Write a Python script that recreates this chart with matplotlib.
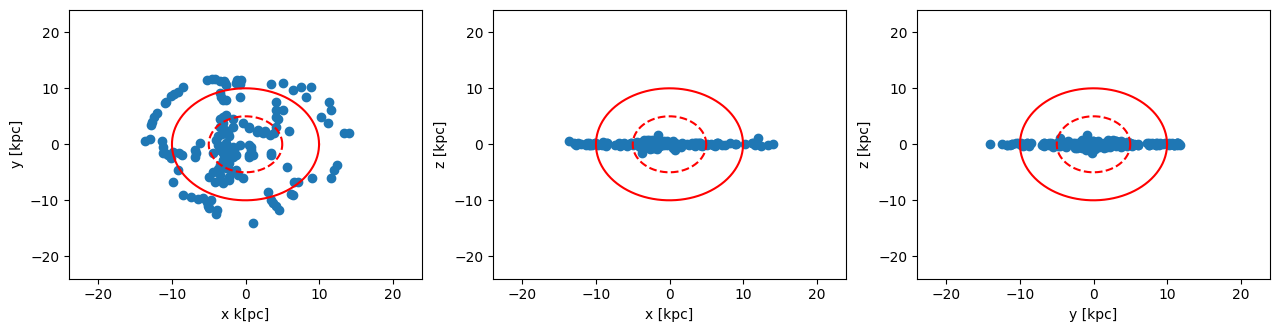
import numpy as np
import matplotlib
matplotlib.use("Agg")
import matplotlib.pyplot as plt

# particle positions [kpc]
x = [-8.5, -9.2, -9.7, -10.1, -10.8, -11.0, -12.1, -12.4, -12.7, -12.8,
     -13.7, -13.0, -11.4, -11.2, -11.0, -9.9, -8.7, -6.9, -6.8, -11.2,
     -10.1, -9.2, -9.9, -9.0, -6.7,
     -8.5, -7.4, -6.5, -5.8, -5.3, -5.1, -4.9, -4.0,
     -5.3, -4.2, -3.5, -2.8, -2.6, -3.5, -3.3, -3.1, -2.6, -1.3, -0.6, -0.8, -0.8,
     -3.5, -2.6, -3.5, -4.0, -3.5, -2.2, -1.7, -2.6, -1.5, -1.7,
     -3.1, -1.7, -3.7, -3.5, -2.4, -1.7, -1.3, -2.4, -0.4, 0.5,
     1.7, 2.6, 3.9, 0.5, 0.8, 0.5, 3.5, -4.4, -3.5, -2.2,
     -0.4, -4.9, -4.2, -3.1, -2.2, -3.1, -4.4, -3.5, -2.2, -1.3,
     -6.2, -1.5, -3.8, 4.2, 4.2,
     3.5, 5.1, 6.4, 7.6, 8.9, 8.2, 4.2, 5.1, 4.4, 4.2, 5.9,
     11.4, 11.6, 10.3, 11.2, 13.4, 14.1,
     0.5, 1.6, 2.4, 3.3, 0.8, 1.0, 3.5, -0.8,
     0.5, 5.7, 7.1, 6.6, 9.1, 11.6, 12.1, 12.4, 3.0, 3.5, 3.7, 4.6, 4.2,
     6.2, 6.4, 1.0,
     -3.0, -2.8, -3.2, -2.9, -2.0, -3.0, -2.6, -3.8, -1.0, -2.0, -3.0,
     -4.6, -2.9, -1.2, -10.6, -4.7, -3.9]
y = [10.3, 9.4, 8.9, 8.6, 7.6, 7.3, 5.5, 4.9, 4.0, 3.4,
     0.6, 0.9, 0.5, -0.4, -1.6, -1.3, -1.9, -1.0, -2.3, -1.6,
     -2.5, -4.6, -6.8, -1.6, -1.6,
     -9.1, -9.4, -9.8, -9.6, -10.3, -11.1, -11.4, -12.4,
     11.4, 11.7, 11.3, 11.0, 10.5, 9.1, 8.5, 7.9, 7.9, 11.0, 11.5, 10.8, 8.5,
     4.6, 5.2, 3.1, 0.8, -1.0, 1.4, 3.1, 0.2, -1.0, -2.2,
     4.9, 4.6, 1.4, -0.4, 2.0, -0.4, -1.9, -2.5, 3.8, 3.1,
     2.6, 2.3, 2.0, -0.1, -1.0, -1.9, -1.6, -4.9, -5.5, -5.8,
     -6.1, -5.8, -6.7, -6.7, -6.4, -7.0, -1.6, -3.7, -3.4, -4.6,
     0.2, -0.9, -0.2, 4.9, 6.1,
     10.7, 10.9, 9.7, 10.3, 10.2, 8.5, 7.6, 6.1, 4.5, 3.1, 2.4,
     7.6, 6.1, 4.9, 3.8, 2.0, 2.1,
     2.9, 2.2, 2.0, 1.7, -0.4, -1.9, -1.9, -0.1,
     -2.2, -4.0, -6.7, -6.7, -6.1, -6.1, -4.6, -3.7, -8.5, -9.9, -10.5, -11.7, -11.1,
     -8.8, -9.1, -14.1,
     3.8, 2.6, 1.9, -0.8, -1.5, -2.8, -4.3, -4.5, -5.5, -4.8, -1.5,
     11.6, 11.3, 11.4, -2.0, -9.9, -11.8]
z = [0.3, 0.1, -0.2, 0.2, -0.1, 0.3, 0.0, 0.2, -0.2, 0.1,
     0.5, 0.2, -0.1, 0.3, -0.2, 0.1, -0.3, 0.2, -0.1, 0.0,
     0.2, -0.2, 0.1, 0.4, -0.3,
     0.2, -0.2, 0.1, -0.3, 0.2, 0.0, -0.2, 0.1,
     0.3, -0.1, 0.2, -0.2, 0.1, 0.3, -0.2, 0.0, 0.2, -0.1, 0.3, 0.0, -0.2,
     0.4, -0.3, 0.6, -0.5, 0.7, -0.6, 0.5, -0.8, 0.9, -0.4,
     0.2, -0.1, 0.3, -0.2, 0.8, -0.9, 0.4, -0.7, 0.6, -0.3,
     0.2, -0.2, 0.3, 0.5, -1.0, 0.2, -0.3, 0.2, -0.4, 0.3,
     -0.2, 0.1, -0.3, 0.2, 0.0, -0.2, 0.4, -0.5, 0.6, -0.3,
     0.3, 1.7, -1.6, 0.2, -0.1,
     0.3, -0.1, 0.2, -0.2, 0.1, 0.3, -0.2, 0.1, -0.3, 0.2, -0.1,
     0.2, -0.2, 0.1, 0.3, -0.2, 0.0,
     0.4, -0.4, 0.1, -0.2, 0.3, -0.5, 0.2, 0.6,
     -0.6, 0.1, -0.2, 0.2, 0.0, 0.3, 1.2, -0.3, 0.2, -0.1, 0.3, -0.2, 0.1,
     -0.3, 0.2, 0.0,
     -0.5, 0.7, -0.4, 0.5, -0.7, 0.3, -0.2, 0.4, 0.1, -0.3, 0.8,
     0.1, -0.2, 0.2, -0.1, 0.2, -0.1]

r_outer = 10.0
r_inner = 5.0
lim = 24

theta = np.linspace(0, 2 * np.pi, 200)

fig = plt.figure(figsize=(12.79, 3.32), dpi=100)
W, H = 1279, 332
lefts = [69, 493, 917]
aw = 353
top_px, bot_px = 9.9, 278.7

pairs = [(x, y, "x k[pc]", "y [kpc]"),
         (x, z, "x [kpc]", "z [kpc]"),
         (y, z, "y [kpc]", "z [kpc]")]

for l, (a, b, xl, yl) in zip(lefts, pairs):
    ax = fig.add_axes([l / W, (H - bot_px) / H, aw / W, (bot_px - top_px) / H])
    ax.scatter(a, b, color="#1f77b4")
    ax.plot(r_outer * np.cos(theta), r_outer * np.sin(theta), color="red")
    ax.plot(r_inner * np.cos(theta), r_inner * np.sin(theta), color="red", linestyle="--")
    ax.set_xlim(-lim, lim)
    ax.set_ylim(-lim, lim)
    ax.set_xticks([-20, -10, 0, 10, 20])
    ax.set_yticks([-20, -10, 0, 10, 20])
    ax.set_xlabel(xl)
    ax.set_ylabel(yl)

fig.savefig("out.png", dpi=100)
